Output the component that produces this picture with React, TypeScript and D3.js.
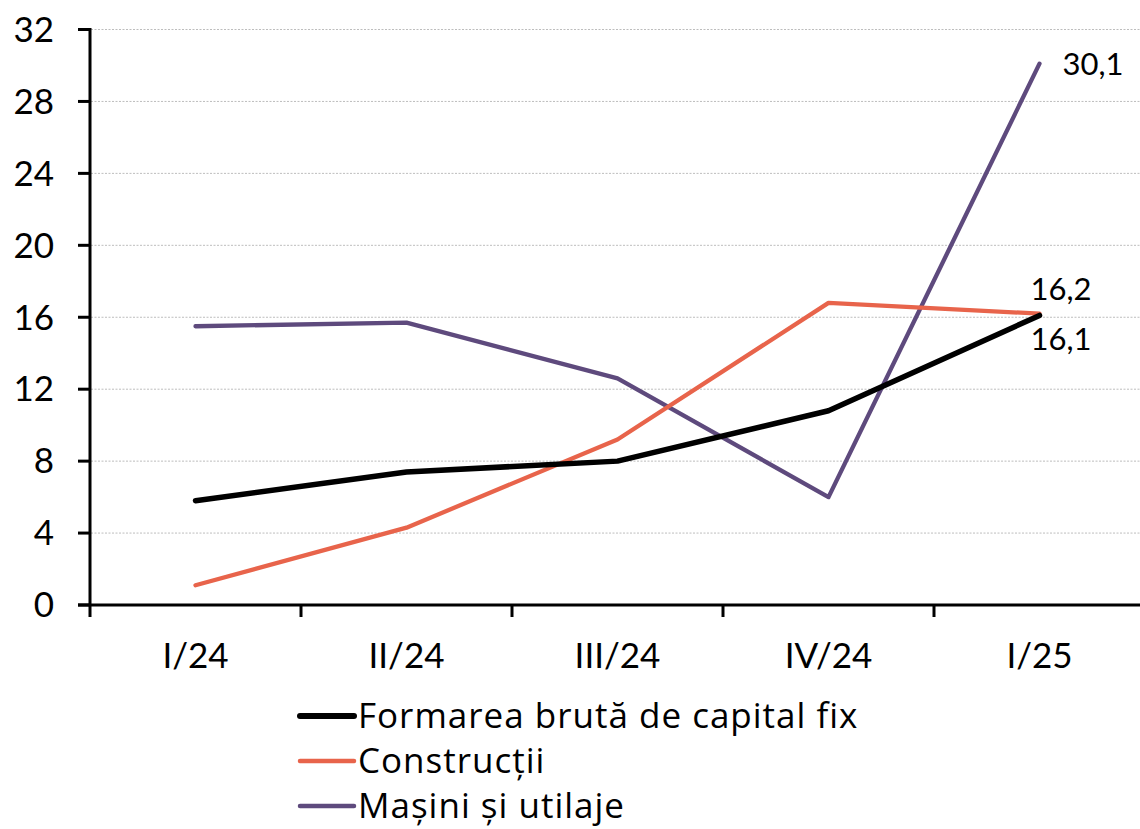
import React from "react";
import * as d3 from "d3";

const categories = ["I/24", "II/24", "III/24", "IV/24", "I/25"];
const formarea = [5.8, 7.4, 8.0, 10.8, 16.1];
const constructii = [1.1, 4.3, 9.2, 16.8, 16.2];
const masini = [15.5, 15.7, 12.6, 6.0, 30.1];
const yTicks = [0, 4, 8, 12, 16, 20, 24, 28, 32];
const seriesNames = ["Formarea brută de capital fix", "Construcții", "Mașini și utilaje"];

const W = 1140;
const H = 829;
const FONT = "Lato, 'Open Sans', sans-serif";
const LEGEND_FONT = "'Open Sans', Lato, sans-serif";

export default function App() {
  const x = d3.scaleBand<string>().domain(categories).range([90, 1145]).paddingInner(0).paddingOuter(0);
  const y = d3.scaleLinear().domain([0, 32]).range([605, 29.5]);
  const cx = (c: string) => (x(c) ?? 0) + x.bandwidth() / 2;

  const series = [
    { name: seriesNames[0], values: formarea, color: "#000000", width: 5.5 },
    { name: seriesNames[1], values: constructii, color: "#E8644B", width: 4.3 },
    { name: seriesNames[2], values: masini, color: "#5E4A7D", width: 4.3 },
  ];

  const line = d3
    .line<number>()
    .x((_, i) => cx(categories[i]))
    .y((d) => y(d));

  const last = categories[categories.length - 1];
  const bounds = [...categories.map((c) => x(c) ?? 0), 1140];
  const fmt = (v: number) => String(v).replace(".", ",");

  return (
    <svg width={W} height={H} style={{ position: "absolute", left: 0, top: 0, background: "#fff" }} fontFamily={FONT}>
      {yTicks.filter((t) => t > 0).map((t) => (
        <line key={"g" + t} x1={91} x2={1140} y1={y(t)} y2={y(t)} stroke="#bdbdbd" strokeWidth={1} strokeDasharray="2,1.5" />
      ))}
      <line x1={90} x2={90} y1={y(32) - 1.5} y2={617} stroke="#000" strokeWidth={3} />
      {yTicks.map((t) => (
        <g key={"yt" + t}>
          <line x1={78} x2={90} y1={y(t)} y2={y(t)} stroke="#000" strokeWidth={3} />
          <text x={54} y={y(t)} dy="0.35em" textAnchor="end" fontSize={35} fill="#000">
            {t}
          </text>
        </g>
      ))}
      <line x1={78} x2={1140} y1={605} y2={605} stroke="#000" strokeWidth={3} />
      {bounds.slice(1, 5).map((b, i) => (
        <line key={"xt" + i} x1={b} x2={b} y1={605} y2={617} stroke="#000" strokeWidth={3} />
      ))}
      {categories.map((c) => (
        <text key={"xl" + c} x={cx(c)} y={668} textAnchor="middle" fontSize={35} fill="#000">
          {c}
        </text>
      ))}
      {[series[2], series[1], series[0]].map((s) => (
        <path key={s.name} d={line(s.values) ?? ""} fill="none" stroke={s.color} strokeWidth={s.width} strokeLinecap="round" strokeLinejoin="round" />
      ))}
      <text x={cx(last) + 23} y={y(masini[4])} dy="0.35em" fontSize={31} fill="#000">
        {fmt(masini[4])}
      </text>
      <text x={cx(last) - 9} y={y(constructii[4]) - 14} fontSize={31} fill="#000">
        {fmt(constructii[4])}
      </text>
      <text x={cx(last) - 9} y={y(formarea[4]) + 35} fontSize={31} fill="#000">
        {fmt(formarea[4])}
      </text>
      {series.map((s, i) => (
        <g key={"lg" + i}>
          <line x1={300} x2={354} y1={716 + i * 45} y2={716 + i * 45} stroke={s.color} strokeWidth={i === 0 ? 6 : 4.5} strokeLinecap="round" />
          <text x={358} y={716 + i * 45} dy="0.35em" fontSize={35} letterSpacing={1} fill="#000" fontFamily={LEGEND_FONT}>
            {s.name}
          </text>
        </g>
      ))}
    </svg>
  );
}
